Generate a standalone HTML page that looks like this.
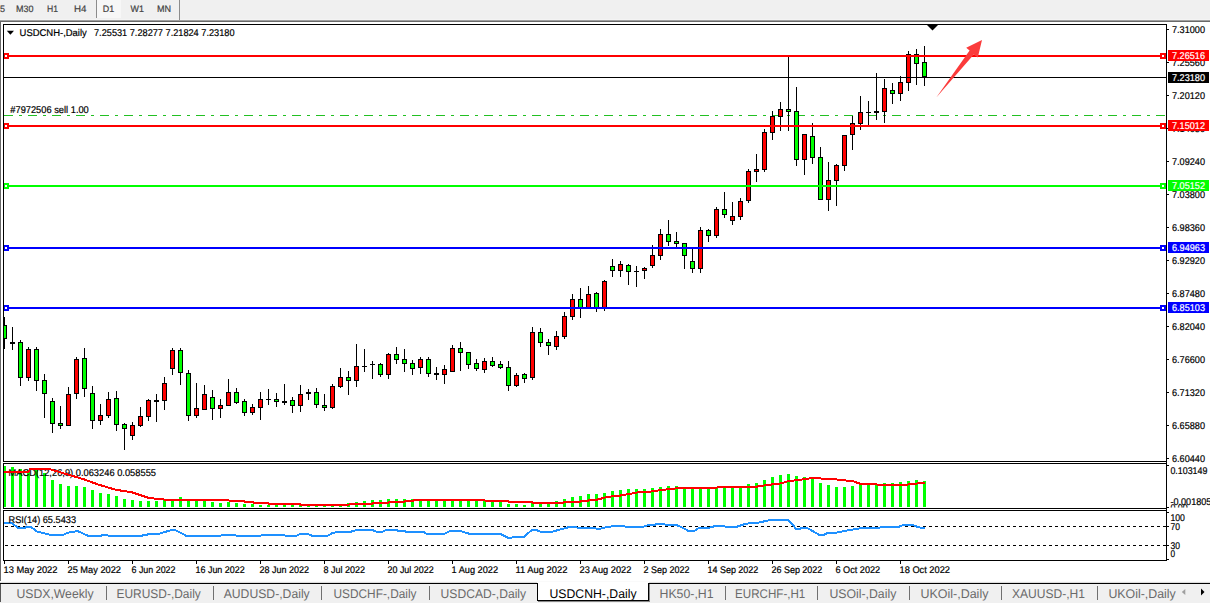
<!DOCTYPE html>
<html><head><meta charset="utf-8"><title>USDCNH-,Daily</title>
<style>html,body{margin:0;padding:0;background:#fff;width:1210px;height:604px;overflow:hidden}svg text{font-family:"Liberation Sans",sans-serif}</style>
</head><body>
<svg width="1210" height="604" viewBox="0 0 1210 604" style="position:absolute;left:0;top:0" text-rendering="geometricPrecision">
<g shape-rendering="crispEdges">
<rect x="0" y="0" width="1210" height="604" fill="#fff"/>
<rect x="0" y="0" width="1210" height="19" fill="#f0f0f0"/>
<rect x="0" y="19" width="1210" height="1" fill="#f4f4f4"/>
<rect x="0" y="20" width="1210" height="1" fill="#a0a0a0"/>
<rect x="0" y="21" width="1210" height="1" fill="#696969"/>
<rect x="97" y="0" width="24" height="18" fill="#f7f7f7"/>
<rect x="96" y="0" width="1" height="18" fill="#8c8c8c"/>
<rect x="179" y="0" width="1" height="20" fill="#8c8c8c"/>
<rect x="0" y="21" width="1" height="561" fill="#696969"/>
<rect x="0" y="581" width="1210" height="1" fill="#fafafa"/>
<rect x="0" y="582" width="1210" height="1" fill="#dcdcdc"/>
<rect x="0" y="583" width="1210" height="1" fill="#000"/>
<rect x="0" y="584" width="1210" height="19" fill="#f0f0f0"/>
<rect x="0" y="603" width="1210" height="1" fill="#fff"/>
<rect x="0" y="584" width="1" height="18" fill="#555"/>
<clipPath id="cm"><rect x="4" y="25" width="1162" height="436"/></clipPath>
<clipPath id="cd"><rect x="4" y="464" width="1162" height="44"/></clipPath>
<clipPath id="cr"><rect x="4" y="511" width="1162" height="49"/></clipPath>
<g clip-path="url(#cm)">
<rect x="4" y="115" width="9" height="1" fill="#22c022"/>
<rect x="19" y="115" width="3" height="1" fill="#22c022"/>
<rect x="28" y="115" width="9" height="1" fill="#22c022"/>
<rect x="43" y="115" width="3" height="1" fill="#22c022"/>
<rect x="52" y="115" width="9" height="1" fill="#22c022"/>
<rect x="67" y="115" width="3" height="1" fill="#22c022"/>
<rect x="76" y="115" width="9" height="1" fill="#22c022"/>
<rect x="91" y="115" width="3" height="1" fill="#22c022"/>
<rect x="100" y="115" width="9" height="1" fill="#22c022"/>
<rect x="115" y="115" width="3" height="1" fill="#22c022"/>
<rect x="124" y="115" width="9" height="1" fill="#22c022"/>
<rect x="139" y="115" width="3" height="1" fill="#22c022"/>
<rect x="148" y="115" width="9" height="1" fill="#22c022"/>
<rect x="163" y="115" width="3" height="1" fill="#22c022"/>
<rect x="172" y="115" width="9" height="1" fill="#22c022"/>
<rect x="187" y="115" width="3" height="1" fill="#22c022"/>
<rect x="196" y="115" width="9" height="1" fill="#22c022"/>
<rect x="211" y="115" width="3" height="1" fill="#22c022"/>
<rect x="220" y="115" width="9" height="1" fill="#22c022"/>
<rect x="235" y="115" width="3" height="1" fill="#22c022"/>
<rect x="244" y="115" width="9" height="1" fill="#22c022"/>
<rect x="259" y="115" width="3" height="1" fill="#22c022"/>
<rect x="268" y="115" width="9" height="1" fill="#22c022"/>
<rect x="283" y="115" width="3" height="1" fill="#22c022"/>
<rect x="292" y="115" width="9" height="1" fill="#22c022"/>
<rect x="307" y="115" width="3" height="1" fill="#22c022"/>
<rect x="316" y="115" width="9" height="1" fill="#22c022"/>
<rect x="331" y="115" width="3" height="1" fill="#22c022"/>
<rect x="340" y="115" width="9" height="1" fill="#22c022"/>
<rect x="355" y="115" width="3" height="1" fill="#22c022"/>
<rect x="364" y="115" width="9" height="1" fill="#22c022"/>
<rect x="379" y="115" width="3" height="1" fill="#22c022"/>
<rect x="388" y="115" width="9" height="1" fill="#22c022"/>
<rect x="403" y="115" width="3" height="1" fill="#22c022"/>
<rect x="412" y="115" width="9" height="1" fill="#22c022"/>
<rect x="427" y="115" width="3" height="1" fill="#22c022"/>
<rect x="436" y="115" width="9" height="1" fill="#22c022"/>
<rect x="451" y="115" width="3" height="1" fill="#22c022"/>
<rect x="460" y="115" width="9" height="1" fill="#22c022"/>
<rect x="475" y="115" width="3" height="1" fill="#22c022"/>
<rect x="484" y="115" width="9" height="1" fill="#22c022"/>
<rect x="499" y="115" width="3" height="1" fill="#22c022"/>
<rect x="508" y="115" width="9" height="1" fill="#22c022"/>
<rect x="523" y="115" width="3" height="1" fill="#22c022"/>
<rect x="532" y="115" width="9" height="1" fill="#22c022"/>
<rect x="547" y="115" width="3" height="1" fill="#22c022"/>
<rect x="556" y="115" width="9" height="1" fill="#22c022"/>
<rect x="571" y="115" width="3" height="1" fill="#22c022"/>
<rect x="580" y="115" width="9" height="1" fill="#22c022"/>
<rect x="595" y="115" width="3" height="1" fill="#22c022"/>
<rect x="604" y="115" width="9" height="1" fill="#22c022"/>
<rect x="619" y="115" width="3" height="1" fill="#22c022"/>
<rect x="628" y="115" width="9" height="1" fill="#22c022"/>
<rect x="643" y="115" width="3" height="1" fill="#22c022"/>
<rect x="652" y="115" width="9" height="1" fill="#22c022"/>
<rect x="667" y="115" width="3" height="1" fill="#22c022"/>
<rect x="676" y="115" width="9" height="1" fill="#22c022"/>
<rect x="691" y="115" width="3" height="1" fill="#22c022"/>
<rect x="700" y="115" width="9" height="1" fill="#22c022"/>
<rect x="715" y="115" width="3" height="1" fill="#22c022"/>
<rect x="724" y="115" width="9" height="1" fill="#22c022"/>
<rect x="739" y="115" width="3" height="1" fill="#22c022"/>
<rect x="748" y="115" width="9" height="1" fill="#22c022"/>
<rect x="763" y="115" width="3" height="1" fill="#22c022"/>
<rect x="772" y="115" width="9" height="1" fill="#22c022"/>
<rect x="787" y="115" width="3" height="1" fill="#22c022"/>
<rect x="796" y="115" width="9" height="1" fill="#22c022"/>
<rect x="811" y="115" width="3" height="1" fill="#22c022"/>
<rect x="820" y="115" width="9" height="1" fill="#22c022"/>
<rect x="835" y="115" width="3" height="1" fill="#22c022"/>
<rect x="844" y="115" width="9" height="1" fill="#22c022"/>
<rect x="859" y="115" width="3" height="1" fill="#22c022"/>
<rect x="868" y="115" width="9" height="1" fill="#22c022"/>
<rect x="883" y="115" width="3" height="1" fill="#22c022"/>
<rect x="892" y="115" width="9" height="1" fill="#22c022"/>
<rect x="907" y="115" width="3" height="1" fill="#22c022"/>
<rect x="916" y="115" width="9" height="1" fill="#22c022"/>
<rect x="931" y="115" width="3" height="1" fill="#22c022"/>
<rect x="940" y="115" width="9" height="1" fill="#22c022"/>
<rect x="955" y="115" width="3" height="1" fill="#22c022"/>
<rect x="964" y="115" width="9" height="1" fill="#22c022"/>
<rect x="979" y="115" width="3" height="1" fill="#22c022"/>
<rect x="988" y="115" width="9" height="1" fill="#22c022"/>
<rect x="1003" y="115" width="3" height="1" fill="#22c022"/>
<rect x="1012" y="115" width="9" height="1" fill="#22c022"/>
<rect x="1027" y="115" width="3" height="1" fill="#22c022"/>
<rect x="1036" y="115" width="9" height="1" fill="#22c022"/>
<rect x="1051" y="115" width="3" height="1" fill="#22c022"/>
<rect x="1060" y="115" width="9" height="1" fill="#22c022"/>
<rect x="1075" y="115" width="3" height="1" fill="#22c022"/>
<rect x="1084" y="115" width="9" height="1" fill="#22c022"/>
<rect x="1099" y="115" width="3" height="1" fill="#22c022"/>
<rect x="1108" y="115" width="9" height="1" fill="#22c022"/>
<rect x="1123" y="115" width="3" height="1" fill="#22c022"/>
<rect x="1132" y="115" width="9" height="1" fill="#22c022"/>
<rect x="1147" y="115" width="3" height="1" fill="#22c022"/>
<rect x="1156" y="115" width="9" height="1" fill="#22c022"/>
<rect x="1171" y="115" width="3" height="1" fill="#22c022"/>
<rect x="4" y="317" width="1" height="32" fill="#000"/>
<rect x="2" y="325" width="5" height="14" fill="#000"/>
<rect x="3" y="326" width="3" height="12" fill="#00ff00"/>
<rect x="12" y="327" width="1" height="23" fill="#000"/>
<rect x="10" y="342" width="5" height="2" fill="#000"/>
<rect x="20" y="340" width="1" height="46" fill="#000"/>
<rect x="18" y="342" width="5" height="36" fill="#000"/>
<rect x="19" y="343" width="3" height="34" fill="#00ff00"/>
<rect x="28" y="347" width="1" height="34" fill="#000"/>
<rect x="26" y="349" width="5" height="29" fill="#000"/>
<rect x="27" y="350" width="3" height="27" fill="#ff0000"/>
<rect x="36" y="347" width="1" height="44" fill="#000"/>
<rect x="34" y="349" width="5" height="32" fill="#000"/>
<rect x="35" y="350" width="3" height="30" fill="#00ff00"/>
<rect x="44" y="374" width="1" height="44" fill="#000"/>
<rect x="42" y="380" width="5" height="14" fill="#000"/>
<rect x="43" y="381" width="3" height="12" fill="#00ff00"/>
<rect x="52" y="398" width="1" height="35" fill="#000"/>
<rect x="50" y="401" width="5" height="23" fill="#000"/>
<rect x="51" y="402" width="3" height="21" fill="#00ff00"/>
<rect x="60" y="406" width="1" height="23" fill="#000"/>
<rect x="58" y="423" width="5" height="3" fill="#000"/>
<rect x="59" y="424" width="3" height="1" fill="#00ff00"/>
<rect x="68" y="387" width="1" height="39" fill="#000"/>
<rect x="66" y="394" width="5" height="32" fill="#000"/>
<rect x="67" y="395" width="3" height="30" fill="#ff0000"/>
<rect x="76" y="357" width="1" height="42" fill="#000"/>
<rect x="74" y="359" width="5" height="35" fill="#000"/>
<rect x="75" y="360" width="3" height="33" fill="#ff0000"/>
<rect x="84" y="348" width="1" height="49" fill="#000"/>
<rect x="82" y="358" width="5" height="31" fill="#000"/>
<rect x="83" y="359" width="3" height="29" fill="#00ff00"/>
<rect x="92" y="386" width="1" height="43" fill="#000"/>
<rect x="90" y="393" width="5" height="28" fill="#000"/>
<rect x="91" y="394" width="3" height="26" fill="#00ff00"/>
<rect x="100" y="404" width="1" height="21" fill="#000"/>
<rect x="98" y="415" width="5" height="6" fill="#000"/>
<rect x="99" y="416" width="3" height="4" fill="#ff0000"/>
<rect x="108" y="392" width="1" height="26" fill="#000"/>
<rect x="106" y="399" width="5" height="17" fill="#000"/>
<rect x="107" y="400" width="3" height="15" fill="#ff0000"/>
<rect x="116" y="391" width="1" height="40" fill="#000"/>
<rect x="114" y="398" width="5" height="27" fill="#000"/>
<rect x="115" y="399" width="3" height="25" fill="#00ff00"/>
<rect x="124" y="423" width="1" height="27" fill="#000"/>
<rect x="122" y="424" width="5" height="5" fill="#000"/>
<rect x="123" y="425" width="3" height="3" fill="#00ff00"/>
<rect x="132" y="422" width="1" height="18" fill="#000"/>
<rect x="130" y="425" width="5" height="11" fill="#000"/>
<rect x="131" y="426" width="3" height="9" fill="#ff0000"/>
<rect x="140" y="407" width="1" height="20" fill="#000"/>
<rect x="138" y="416" width="5" height="10" fill="#000"/>
<rect x="139" y="417" width="3" height="8" fill="#ff0000"/>
<rect x="148" y="399" width="1" height="22" fill="#000"/>
<rect x="146" y="400" width="5" height="17" fill="#000"/>
<rect x="147" y="401" width="3" height="15" fill="#ff0000"/>
<rect x="156" y="394" width="1" height="28" fill="#000"/>
<rect x="154" y="400" width="5" height="2" fill="#000"/>
<rect x="164" y="377" width="1" height="33" fill="#000"/>
<rect x="162" y="383" width="5" height="18" fill="#000"/>
<rect x="163" y="384" width="3" height="16" fill="#ff0000"/>
<rect x="172" y="348" width="1" height="27" fill="#000"/>
<rect x="170" y="350" width="5" height="19" fill="#000"/>
<rect x="171" y="351" width="3" height="17" fill="#ff0000"/>
<rect x="180" y="348" width="1" height="37" fill="#000"/>
<rect x="178" y="350" width="5" height="23" fill="#000"/>
<rect x="179" y="351" width="3" height="21" fill="#00ff00"/>
<rect x="188" y="370" width="1" height="51" fill="#000"/>
<rect x="186" y="373" width="5" height="43" fill="#000"/>
<rect x="187" y="374" width="3" height="41" fill="#00ff00"/>
<rect x="196" y="383" width="1" height="35" fill="#000"/>
<rect x="194" y="408" width="5" height="8" fill="#000"/>
<rect x="195" y="409" width="3" height="6" fill="#ff0000"/>
<rect x="204" y="385" width="1" height="25" fill="#000"/>
<rect x="202" y="394" width="5" height="16" fill="#000"/>
<rect x="203" y="395" width="3" height="14" fill="#ff0000"/>
<rect x="212" y="390" width="1" height="30" fill="#000"/>
<rect x="210" y="397" width="5" height="12" fill="#000"/>
<rect x="211" y="398" width="3" height="10" fill="#00ff00"/>
<rect x="220" y="399" width="1" height="19" fill="#000"/>
<rect x="218" y="405" width="5" height="4" fill="#000"/>
<rect x="219" y="406" width="3" height="2" fill="#ff0000"/>
<rect x="228" y="379" width="1" height="27" fill="#000"/>
<rect x="226" y="392" width="5" height="14" fill="#000"/>
<rect x="227" y="393" width="3" height="12" fill="#ff0000"/>
<rect x="236" y="388" width="1" height="16" fill="#000"/>
<rect x="234" y="392" width="5" height="11" fill="#000"/>
<rect x="235" y="393" width="3" height="9" fill="#00ff00"/>
<rect x="244" y="399" width="1" height="17" fill="#000"/>
<rect x="242" y="401" width="5" height="12" fill="#000"/>
<rect x="243" y="402" width="3" height="10" fill="#00ff00"/>
<rect x="252" y="404" width="1" height="11" fill="#000"/>
<rect x="250" y="407" width="5" height="6" fill="#000"/>
<rect x="251" y="408" width="3" height="4" fill="#ff0000"/>
<rect x="260" y="392" width="1" height="28" fill="#000"/>
<rect x="258" y="399" width="5" height="9" fill="#000"/>
<rect x="259" y="400" width="3" height="7" fill="#ff0000"/>
<rect x="268" y="389" width="1" height="16" fill="#000"/>
<rect x="266" y="399" width="5" height="1" fill="#000"/>
<rect x="276" y="393" width="1" height="14" fill="#000"/>
<rect x="274" y="399" width="5" height="3" fill="#000"/>
<rect x="275" y="400" width="3" height="1" fill="#00ff00"/>
<rect x="284" y="384" width="1" height="21" fill="#000"/>
<rect x="282" y="401" width="5" height="2" fill="#000"/>
<rect x="292" y="397" width="1" height="16" fill="#000"/>
<rect x="290" y="400" width="5" height="6" fill="#000"/>
<rect x="291" y="401" width="3" height="4" fill="#00ff00"/>
<rect x="300" y="385" width="1" height="27" fill="#000"/>
<rect x="298" y="394" width="5" height="12" fill="#000"/>
<rect x="299" y="395" width="3" height="10" fill="#ff0000"/>
<rect x="308" y="389" width="1" height="11" fill="#000"/>
<rect x="306" y="392" width="5" height="2" fill="#000"/>
<rect x="316" y="388" width="1" height="20" fill="#000"/>
<rect x="314" y="392" width="5" height="13" fill="#000"/>
<rect x="315" y="393" width="3" height="11" fill="#00ff00"/>
<rect x="324" y="394" width="1" height="17" fill="#000"/>
<rect x="322" y="405" width="5" height="3" fill="#000"/>
<rect x="323" y="406" width="3" height="1" fill="#00ff00"/>
<rect x="332" y="384" width="1" height="25" fill="#000"/>
<rect x="330" y="386" width="5" height="22" fill="#000"/>
<rect x="331" y="387" width="3" height="20" fill="#ff0000"/>
<rect x="340" y="368" width="1" height="20" fill="#000"/>
<rect x="338" y="377" width="5" height="10" fill="#000"/>
<rect x="339" y="378" width="3" height="8" fill="#ff0000"/>
<rect x="348" y="371" width="1" height="24" fill="#000"/>
<rect x="346" y="377" width="5" height="4" fill="#000"/>
<rect x="347" y="378" width="3" height="2" fill="#00ff00"/>
<rect x="356" y="344" width="1" height="43" fill="#000"/>
<rect x="354" y="366" width="5" height="15" fill="#000"/>
<rect x="355" y="367" width="3" height="13" fill="#ff0000"/>
<rect x="364" y="349" width="1" height="23" fill="#000"/>
<rect x="362" y="366" width="5" height="1" fill="#000"/>
<rect x="372" y="361" width="1" height="18" fill="#000"/>
<rect x="370" y="364" width="5" height="1" fill="#000"/>
<rect x="380" y="363" width="1" height="14" fill="#000"/>
<rect x="378" y="364" width="5" height="11" fill="#000"/>
<rect x="379" y="365" width="3" height="9" fill="#00ff00"/>
<rect x="388" y="353" width="1" height="26" fill="#000"/>
<rect x="386" y="354" width="5" height="21" fill="#000"/>
<rect x="387" y="355" width="3" height="19" fill="#ff0000"/>
<rect x="396" y="347" width="1" height="17" fill="#000"/>
<rect x="394" y="354" width="5" height="6" fill="#000"/>
<rect x="395" y="355" width="3" height="4" fill="#00ff00"/>
<rect x="404" y="349" width="1" height="23" fill="#000"/>
<rect x="402" y="359" width="5" height="5" fill="#000"/>
<rect x="403" y="360" width="3" height="3" fill="#00ff00"/>
<rect x="412" y="360" width="1" height="15" fill="#000"/>
<rect x="410" y="363" width="5" height="6" fill="#000"/>
<rect x="411" y="364" width="3" height="4" fill="#00ff00"/>
<rect x="420" y="357" width="1" height="17" fill="#000"/>
<rect x="418" y="359" width="5" height="9" fill="#000"/>
<rect x="419" y="360" width="3" height="7" fill="#ff0000"/>
<rect x="428" y="357" width="1" height="20" fill="#000"/>
<rect x="426" y="359" width="5" height="15" fill="#000"/>
<rect x="427" y="360" width="3" height="13" fill="#00ff00"/>
<rect x="436" y="367" width="1" height="13" fill="#000"/>
<rect x="434" y="373" width="5" height="2" fill="#000"/>
<rect x="444" y="365" width="1" height="19" fill="#000"/>
<rect x="442" y="369" width="5" height="6" fill="#000"/>
<rect x="443" y="370" width="3" height="4" fill="#ff0000"/>
<rect x="452" y="345" width="1" height="27" fill="#000"/>
<rect x="450" y="348" width="5" height="24" fill="#000"/>
<rect x="451" y="349" width="3" height="22" fill="#ff0000"/>
<rect x="460" y="342" width="1" height="29" fill="#000"/>
<rect x="458" y="348" width="5" height="5" fill="#000"/>
<rect x="459" y="349" width="3" height="3" fill="#00ff00"/>
<rect x="468" y="352" width="1" height="17" fill="#000"/>
<rect x="466" y="352" width="5" height="13" fill="#000"/>
<rect x="467" y="353" width="3" height="11" fill="#00ff00"/>
<rect x="476" y="359" width="1" height="12" fill="#000"/>
<rect x="474" y="363" width="5" height="6" fill="#000"/>
<rect x="475" y="364" width="3" height="4" fill="#00ff00"/>
<rect x="484" y="358" width="1" height="15" fill="#000"/>
<rect x="482" y="361" width="5" height="9" fill="#000"/>
<rect x="483" y="362" width="3" height="7" fill="#ff0000"/>
<rect x="492" y="357" width="1" height="10" fill="#000"/>
<rect x="490" y="361" width="5" height="5" fill="#000"/>
<rect x="491" y="362" width="3" height="3" fill="#00ff00"/>
<rect x="500" y="361" width="1" height="8" fill="#000"/>
<rect x="498" y="364" width="5" height="4" fill="#000"/>
<rect x="499" y="365" width="3" height="2" fill="#00ff00"/>
<rect x="508" y="361" width="1" height="30" fill="#000"/>
<rect x="506" y="367" width="5" height="19" fill="#000"/>
<rect x="507" y="368" width="3" height="17" fill="#00ff00"/>
<rect x="516" y="373" width="1" height="14" fill="#000"/>
<rect x="514" y="375" width="5" height="11" fill="#000"/>
<rect x="515" y="376" width="3" height="9" fill="#ff0000"/>
<rect x="524" y="373" width="1" height="10" fill="#000"/>
<rect x="522" y="374" width="5" height="5" fill="#000"/>
<rect x="523" y="375" width="3" height="3" fill="#00ff00"/>
<rect x="532" y="327" width="1" height="53" fill="#000"/>
<rect x="530" y="332" width="5" height="46" fill="#000"/>
<rect x="531" y="333" width="3" height="44" fill="#ff0000"/>
<rect x="540" y="328" width="1" height="19" fill="#000"/>
<rect x="538" y="332" width="5" height="11" fill="#000"/>
<rect x="539" y="333" width="3" height="9" fill="#00ff00"/>
<rect x="548" y="339" width="1" height="16" fill="#000"/>
<rect x="546" y="342" width="5" height="4" fill="#000"/>
<rect x="547" y="343" width="3" height="2" fill="#00ff00"/>
<rect x="556" y="331" width="1" height="19" fill="#000"/>
<rect x="554" y="336" width="5" height="11" fill="#000"/>
<rect x="555" y="337" width="3" height="9" fill="#ff0000"/>
<rect x="564" y="312" width="1" height="27" fill="#000"/>
<rect x="562" y="316" width="5" height="21" fill="#000"/>
<rect x="563" y="317" width="3" height="19" fill="#ff0000"/>
<rect x="572" y="294" width="1" height="26" fill="#000"/>
<rect x="570" y="299" width="5" height="18" fill="#000"/>
<rect x="571" y="300" width="3" height="16" fill="#ff0000"/>
<rect x="580" y="288" width="1" height="30" fill="#000"/>
<rect x="578" y="299" width="5" height="10" fill="#000"/>
<rect x="579" y="300" width="3" height="8" fill="#00ff00"/>
<rect x="588" y="286" width="1" height="23" fill="#000"/>
<rect x="586" y="294" width="5" height="15" fill="#000"/>
<rect x="587" y="295" width="3" height="13" fill="#ff0000"/>
<rect x="596" y="292" width="1" height="20" fill="#000"/>
<rect x="594" y="293" width="5" height="16" fill="#000"/>
<rect x="595" y="294" width="3" height="14" fill="#00ff00"/>
<rect x="604" y="280" width="1" height="31" fill="#000"/>
<rect x="602" y="281" width="5" height="28" fill="#000"/>
<rect x="603" y="282" width="3" height="26" fill="#ff0000"/>
<rect x="612" y="259" width="1" height="18" fill="#000"/>
<rect x="610" y="266" width="5" height="5" fill="#000"/>
<rect x="611" y="267" width="3" height="3" fill="#00ff00"/>
<rect x="620" y="261" width="1" height="16" fill="#000"/>
<rect x="618" y="264" width="5" height="7" fill="#000"/>
<rect x="619" y="265" width="3" height="5" fill="#ff0000"/>
<rect x="628" y="264" width="1" height="21" fill="#000"/>
<rect x="626" y="265" width="5" height="7" fill="#000"/>
<rect x="627" y="266" width="3" height="5" fill="#00ff00"/>
<rect x="636" y="266" width="1" height="21" fill="#000"/>
<rect x="634" y="271" width="5" height="1" fill="#000"/>
<rect x="644" y="267" width="1" height="12" fill="#000"/>
<rect x="642" y="268" width="5" height="3" fill="#000"/>
<rect x="643" y="269" width="3" height="1" fill="#ff0000"/>
<rect x="652" y="245" width="1" height="23" fill="#000"/>
<rect x="650" y="255" width="5" height="11" fill="#000"/>
<rect x="651" y="256" width="3" height="9" fill="#ff0000"/>
<rect x="660" y="229" width="1" height="31" fill="#000"/>
<rect x="658" y="234" width="5" height="22" fill="#000"/>
<rect x="659" y="235" width="3" height="20" fill="#ff0000"/>
<rect x="668" y="220" width="1" height="26" fill="#000"/>
<rect x="666" y="234" width="5" height="8" fill="#000"/>
<rect x="667" y="235" width="3" height="6" fill="#00ff00"/>
<rect x="676" y="232" width="1" height="15" fill="#000"/>
<rect x="674" y="241" width="5" height="3" fill="#000"/>
<rect x="675" y="242" width="3" height="1" fill="#00ff00"/>
<rect x="684" y="243" width="1" height="26" fill="#000"/>
<rect x="682" y="243" width="5" height="13" fill="#000"/>
<rect x="683" y="244" width="3" height="11" fill="#00ff00"/>
<rect x="692" y="249" width="1" height="24" fill="#000"/>
<rect x="690" y="261" width="5" height="8" fill="#000"/>
<rect x="691" y="262" width="3" height="6" fill="#00ff00"/>
<rect x="700" y="227" width="1" height="46" fill="#000"/>
<rect x="698" y="230" width="5" height="39" fill="#000"/>
<rect x="699" y="231" width="3" height="37" fill="#ff0000"/>
<rect x="708" y="229" width="1" height="13" fill="#000"/>
<rect x="706" y="230" width="5" height="6" fill="#000"/>
<rect x="707" y="231" width="3" height="4" fill="#00ff00"/>
<rect x="716" y="207" width="1" height="31" fill="#000"/>
<rect x="714" y="209" width="5" height="27" fill="#000"/>
<rect x="715" y="210" width="3" height="25" fill="#ff0000"/>
<rect x="724" y="192" width="1" height="26" fill="#000"/>
<rect x="722" y="209" width="5" height="6" fill="#000"/>
<rect x="723" y="210" width="3" height="4" fill="#00ff00"/>
<rect x="732" y="202" width="1" height="23" fill="#000"/>
<rect x="730" y="216" width="5" height="5" fill="#000"/>
<rect x="731" y="217" width="3" height="3" fill="#ff0000"/>
<rect x="740" y="198" width="1" height="22" fill="#000"/>
<rect x="738" y="201" width="5" height="16" fill="#000"/>
<rect x="739" y="202" width="3" height="14" fill="#ff0000"/>
<rect x="748" y="169" width="1" height="34" fill="#000"/>
<rect x="746" y="171" width="5" height="30" fill="#000"/>
<rect x="747" y="172" width="3" height="28" fill="#ff0000"/>
<rect x="756" y="154" width="1" height="28" fill="#000"/>
<rect x="754" y="169" width="5" height="3" fill="#000"/>
<rect x="755" y="170" width="3" height="1" fill="#ff0000"/>
<rect x="764" y="129" width="1" height="43" fill="#000"/>
<rect x="762" y="132" width="5" height="38" fill="#000"/>
<rect x="763" y="133" width="3" height="36" fill="#ff0000"/>
<rect x="772" y="111" width="1" height="29" fill="#000"/>
<rect x="770" y="116" width="5" height="17" fill="#000"/>
<rect x="771" y="117" width="3" height="15" fill="#ff0000"/>
<rect x="780" y="102" width="1" height="29" fill="#000"/>
<rect x="778" y="109" width="5" height="8" fill="#000"/>
<rect x="779" y="110" width="3" height="6" fill="#ff0000"/>
<rect x="788" y="57" width="1" height="74" fill="#000"/>
<rect x="786" y="109" width="5" height="3" fill="#000"/>
<rect x="787" y="110" width="3" height="1" fill="#00ff00"/>
<rect x="796" y="87" width="1" height="79" fill="#000"/>
<rect x="794" y="111" width="5" height="49" fill="#000"/>
<rect x="795" y="112" width="3" height="47" fill="#00ff00"/>
<rect x="804" y="134" width="1" height="41" fill="#000"/>
<rect x="802" y="134" width="5" height="26" fill="#000"/>
<rect x="803" y="135" width="3" height="24" fill="#ff0000"/>
<rect x="812" y="123" width="1" height="41" fill="#000"/>
<rect x="810" y="136" width="5" height="22" fill="#000"/>
<rect x="811" y="137" width="3" height="20" fill="#00ff00"/>
<rect x="820" y="147" width="1" height="53" fill="#000"/>
<rect x="818" y="157" width="5" height="43" fill="#000"/>
<rect x="819" y="158" width="3" height="41" fill="#00ff00"/>
<rect x="828" y="162" width="1" height="49" fill="#000"/>
<rect x="826" y="180" width="5" height="20" fill="#000"/>
<rect x="827" y="181" width="3" height="18" fill="#ff0000"/>
<rect x="836" y="164" width="1" height="42" fill="#000"/>
<rect x="834" y="165" width="5" height="16" fill="#000"/>
<rect x="835" y="166" width="3" height="14" fill="#ff0000"/>
<rect x="844" y="135" width="1" height="36" fill="#000"/>
<rect x="842" y="135" width="5" height="31" fill="#000"/>
<rect x="843" y="136" width="3" height="29" fill="#ff0000"/>
<rect x="852" y="116" width="1" height="34" fill="#000"/>
<rect x="850" y="123" width="5" height="12" fill="#000"/>
<rect x="851" y="124" width="3" height="10" fill="#ff0000"/>
<rect x="860" y="96" width="1" height="34" fill="#000"/>
<rect x="858" y="112" width="5" height="12" fill="#000"/>
<rect x="859" y="113" width="3" height="10" fill="#ff0000"/>
<rect x="868" y="101" width="1" height="24" fill="#000"/>
<rect x="866" y="112" width="5" height="1" fill="#000"/>
<rect x="876" y="73" width="1" height="47" fill="#000"/>
<rect x="874" y="111" width="5" height="2" fill="#000"/>
<rect x="884" y="79" width="1" height="44" fill="#000"/>
<rect x="882" y="88" width="5" height="24" fill="#000"/>
<rect x="883" y="89" width="3" height="22" fill="#ff0000"/>
<rect x="892" y="83" width="1" height="21" fill="#000"/>
<rect x="890" y="90" width="5" height="4" fill="#000"/>
<rect x="891" y="91" width="3" height="2" fill="#00ff00"/>
<rect x="900" y="76" width="1" height="25" fill="#000"/>
<rect x="898" y="82" width="5" height="12" fill="#000"/>
<rect x="899" y="83" width="3" height="10" fill="#ff0000"/>
<rect x="908" y="51" width="1" height="40" fill="#000"/>
<rect x="906" y="54" width="5" height="29" fill="#000"/>
<rect x="907" y="55" width="3" height="27" fill="#ff0000"/>
<rect x="916" y="49" width="1" height="36" fill="#000"/>
<rect x="914" y="54" width="5" height="10" fill="#000"/>
<rect x="915" y="55" width="3" height="8" fill="#00ff00"/>
<rect x="924" y="46" width="1" height="40" fill="#000"/>
<rect x="922" y="62" width="5" height="15" fill="#000"/>
<rect x="923" y="63" width="3" height="13" fill="#00ff00"/>
</g>
<rect x="9" y="55" width="1151" height="2" fill="#ff0000"/>
<rect x="3" y="53" width="6" height="6" fill="#ff0000"/>
<rect x="5" y="55" width="2" height="2" fill="#fff"/>
<rect x="1160" y="53" width="6" height="6" fill="#ff0000"/>
<rect x="1162" y="55" width="2" height="2" fill="#fff"/>
<rect x="9" y="125" width="1151" height="2" fill="#ff0000"/>
<rect x="3" y="123" width="6" height="6" fill="#ff0000"/>
<rect x="5" y="125" width="2" height="2" fill="#fff"/>
<rect x="1160" y="123" width="6" height="6" fill="#ff0000"/>
<rect x="1162" y="125" width="2" height="2" fill="#fff"/>
<rect x="9" y="185" width="1151" height="2" fill="#00ff00"/>
<rect x="3" y="183" width="6" height="6" fill="#00ff00"/>
<rect x="5" y="185" width="2" height="2" fill="#fff"/>
<rect x="1160" y="183" width="6" height="6" fill="#00ff00"/>
<rect x="1162" y="185" width="2" height="2" fill="#fff"/>
<rect x="9" y="247" width="1151" height="2" fill="#0000ff"/>
<rect x="3" y="245" width="6" height="6" fill="#0000ff"/>
<rect x="5" y="247" width="2" height="2" fill="#fff"/>
<rect x="1160" y="245" width="6" height="6" fill="#0000ff"/>
<rect x="1162" y="247" width="2" height="2" fill="#fff"/>
<rect x="9" y="307" width="1151" height="2" fill="#0000ff"/>
<rect x="3" y="305" width="6" height="6" fill="#0000ff"/>
<rect x="5" y="307" width="2" height="2" fill="#fff"/>
<rect x="1160" y="305" width="6" height="6" fill="#0000ff"/>
<rect x="1162" y="307" width="2" height="2" fill="#fff"/>
<rect x="4" y="77" width="1162" height="1" fill="#000"/>
<g clip-path="url(#cd)">
<rect x="3" y="466" width="3" height="41" fill="#00ff00"/>
<rect x="11" y="467" width="3" height="40" fill="#00ff00"/>
<rect x="19" y="469" width="3" height="38" fill="#00ff00"/>
<rect x="27" y="470" width="3" height="37" fill="#00ff00"/>
<rect x="35" y="469" width="3" height="38" fill="#00ff00"/>
<rect x="43" y="473" width="3" height="34" fill="#00ff00"/>
<rect x="51" y="480" width="3" height="27" fill="#00ff00"/>
<rect x="59" y="484" width="3" height="23" fill="#00ff00"/>
<rect x="67" y="486" width="3" height="21" fill="#00ff00"/>
<rect x="75" y="486" width="3" height="21" fill="#00ff00"/>
<rect x="83" y="487" width="3" height="20" fill="#00ff00"/>
<rect x="91" y="490" width="3" height="17" fill="#00ff00"/>
<rect x="99" y="493" width="3" height="14" fill="#00ff00"/>
<rect x="107" y="494" width="3" height="13" fill="#00ff00"/>
<rect x="115" y="496" width="3" height="11" fill="#00ff00"/>
<rect x="123" y="499" width="3" height="8" fill="#00ff00"/>
<rect x="131" y="500" width="3" height="7" fill="#00ff00"/>
<rect x="139" y="501" width="3" height="6" fill="#00ff00"/>
<rect x="147" y="501" width="3" height="6" fill="#00ff00"/>
<rect x="155" y="501" width="3" height="6" fill="#00ff00"/>
<rect x="163" y="500" width="3" height="7" fill="#00ff00"/>
<rect x="171" y="500" width="3" height="7" fill="#00ff00"/>
<rect x="179" y="497" width="3" height="10" fill="#00ff00"/>
<rect x="187" y="501" width="3" height="6" fill="#00ff00"/>
<rect x="195" y="501" width="3" height="6" fill="#00ff00"/>
<rect x="203" y="501" width="3" height="6" fill="#00ff00"/>
<rect x="211" y="502" width="3" height="5" fill="#00ff00"/>
<rect x="219" y="503" width="3" height="4" fill="#00ff00"/>
<rect x="227" y="502" width="3" height="5" fill="#00ff00"/>
<rect x="235" y="503" width="3" height="4" fill="#00ff00"/>
<rect x="243" y="504" width="3" height="3" fill="#00ff00"/>
<rect x="251" y="504" width="3" height="3" fill="#00ff00"/>
<rect x="259" y="505" width="3" height="2" fill="#00ff00"/>
<rect x="267" y="505" width="3" height="2" fill="#00ff00"/>
<rect x="275" y="505" width="3" height="2" fill="#00ff00"/>
<rect x="283" y="505" width="3" height="2" fill="#00ff00"/>
<rect x="291" y="505" width="3" height="2" fill="#00ff00"/>
<rect x="299" y="505" width="3" height="2" fill="#00ff00"/>
<rect x="307" y="506" width="3" height="1" fill="#00ff00"/>
<rect x="315" y="506" width="3" height="1" fill="#00ff00"/>
<rect x="323" y="506" width="3" height="1" fill="#00ff00"/>
<rect x="331" y="506" width="3" height="1" fill="#00ff00"/>
<rect x="339" y="506" width="3" height="1" fill="#00ff00"/>
<rect x="347" y="503" width="3" height="4" fill="#00ff00"/>
<rect x="355" y="502" width="3" height="5" fill="#00ff00"/>
<rect x="363" y="501" width="3" height="6" fill="#00ff00"/>
<rect x="371" y="500" width="3" height="7" fill="#00ff00"/>
<rect x="379" y="500" width="3" height="7" fill="#00ff00"/>
<rect x="387" y="499" width="3" height="8" fill="#00ff00"/>
<rect x="395" y="499" width="3" height="8" fill="#00ff00"/>
<rect x="403" y="499" width="3" height="8" fill="#00ff00"/>
<rect x="411" y="499" width="3" height="8" fill="#00ff00"/>
<rect x="419" y="500" width="3" height="7" fill="#00ff00"/>
<rect x="427" y="500" width="3" height="7" fill="#00ff00"/>
<rect x="435" y="500" width="3" height="7" fill="#00ff00"/>
<rect x="443" y="500" width="3" height="7" fill="#00ff00"/>
<rect x="451" y="500" width="3" height="7" fill="#00ff00"/>
<rect x="459" y="500" width="3" height="7" fill="#00ff00"/>
<rect x="467" y="500" width="3" height="7" fill="#00ff00"/>
<rect x="475" y="500" width="3" height="7" fill="#00ff00"/>
<rect x="483" y="500" width="3" height="7" fill="#00ff00"/>
<rect x="491" y="501" width="3" height="6" fill="#00ff00"/>
<rect x="499" y="501" width="3" height="6" fill="#00ff00"/>
<rect x="507" y="504" width="3" height="3" fill="#00ff00"/>
<rect x="515" y="504" width="3" height="3" fill="#00ff00"/>
<rect x="523" y="505" width="3" height="2" fill="#00ff00"/>
<rect x="531" y="502" width="3" height="5" fill="#00ff00"/>
<rect x="539" y="503" width="3" height="4" fill="#00ff00"/>
<rect x="547" y="503" width="3" height="4" fill="#00ff00"/>
<rect x="555" y="501" width="3" height="6" fill="#00ff00"/>
<rect x="563" y="499" width="3" height="8" fill="#00ff00"/>
<rect x="571" y="497" width="3" height="10" fill="#00ff00"/>
<rect x="579" y="496" width="3" height="11" fill="#00ff00"/>
<rect x="587" y="494" width="3" height="13" fill="#00ff00"/>
<rect x="595" y="494" width="3" height="13" fill="#00ff00"/>
<rect x="603" y="493" width="3" height="14" fill="#00ff00"/>
<rect x="611" y="491" width="3" height="16" fill="#00ff00"/>
<rect x="619" y="490" width="3" height="17" fill="#00ff00"/>
<rect x="627" y="489" width="3" height="18" fill="#00ff00"/>
<rect x="635" y="489" width="3" height="18" fill="#00ff00"/>
<rect x="643" y="489" width="3" height="18" fill="#00ff00"/>
<rect x="651" y="488" width="3" height="19" fill="#00ff00"/>
<rect x="659" y="487" width="3" height="20" fill="#00ff00"/>
<rect x="667" y="486" width="3" height="21" fill="#00ff00"/>
<rect x="675" y="486" width="3" height="21" fill="#00ff00"/>
<rect x="683" y="487" width="3" height="20" fill="#00ff00"/>
<rect x="691" y="488" width="3" height="19" fill="#00ff00"/>
<rect x="699" y="488" width="3" height="19" fill="#00ff00"/>
<rect x="707" y="488" width="3" height="19" fill="#00ff00"/>
<rect x="715" y="487" width="3" height="20" fill="#00ff00"/>
<rect x="723" y="487" width="3" height="20" fill="#00ff00"/>
<rect x="731" y="487" width="3" height="20" fill="#00ff00"/>
<rect x="739" y="487" width="3" height="20" fill="#00ff00"/>
<rect x="747" y="484" width="3" height="23" fill="#00ff00"/>
<rect x="755" y="483" width="3" height="24" fill="#00ff00"/>
<rect x="763" y="480" width="3" height="27" fill="#00ff00"/>
<rect x="771" y="477" width="3" height="30" fill="#00ff00"/>
<rect x="779" y="475" width="3" height="32" fill="#00ff00"/>
<rect x="787" y="474" width="3" height="33" fill="#00ff00"/>
<rect x="795" y="476" width="3" height="31" fill="#00ff00"/>
<rect x="803" y="477" width="3" height="30" fill="#00ff00"/>
<rect x="811" y="479" width="3" height="28" fill="#00ff00"/>
<rect x="819" y="483" width="3" height="24" fill="#00ff00"/>
<rect x="827" y="485" width="3" height="22" fill="#00ff00"/>
<rect x="835" y="487" width="3" height="20" fill="#00ff00"/>
<rect x="843" y="487" width="3" height="20" fill="#00ff00"/>
<rect x="851" y="486" width="3" height="21" fill="#00ff00"/>
<rect x="859" y="485" width="3" height="22" fill="#00ff00"/>
<rect x="867" y="485" width="3" height="22" fill="#00ff00"/>
<rect x="875" y="485" width="3" height="22" fill="#00ff00"/>
<rect x="883" y="483" width="3" height="24" fill="#00ff00"/>
<rect x="891" y="483" width="3" height="24" fill="#00ff00"/>
<rect x="899" y="482" width="3" height="25" fill="#00ff00"/>
<rect x="907" y="481" width="3" height="26" fill="#00ff00"/>
<rect x="915" y="480" width="3" height="27" fill="#00ff00"/>
<rect x="923" y="481" width="3" height="26" fill="#00ff00"/>
</g>
<rect x="5" y="526" width="3" height="1" fill="#000"/>
<rect x="11" y="526" width="3" height="1" fill="#000"/>
<rect x="17" y="526" width="3" height="1" fill="#000"/>
<rect x="23" y="526" width="3" height="1" fill="#000"/>
<rect x="29" y="526" width="3" height="1" fill="#000"/>
<rect x="35" y="526" width="3" height="1" fill="#000"/>
<rect x="41" y="526" width="3" height="1" fill="#000"/>
<rect x="47" y="526" width="3" height="1" fill="#000"/>
<rect x="53" y="526" width="3" height="1" fill="#000"/>
<rect x="59" y="526" width="3" height="1" fill="#000"/>
<rect x="65" y="526" width="3" height="1" fill="#000"/>
<rect x="71" y="526" width="3" height="1" fill="#000"/>
<rect x="77" y="526" width="3" height="1" fill="#000"/>
<rect x="83" y="526" width="3" height="1" fill="#000"/>
<rect x="89" y="526" width="3" height="1" fill="#000"/>
<rect x="95" y="526" width="3" height="1" fill="#000"/>
<rect x="101" y="526" width="3" height="1" fill="#000"/>
<rect x="107" y="526" width="3" height="1" fill="#000"/>
<rect x="113" y="526" width="3" height="1" fill="#000"/>
<rect x="119" y="526" width="3" height="1" fill="#000"/>
<rect x="125" y="526" width="3" height="1" fill="#000"/>
<rect x="131" y="526" width="3" height="1" fill="#000"/>
<rect x="137" y="526" width="3" height="1" fill="#000"/>
<rect x="143" y="526" width="3" height="1" fill="#000"/>
<rect x="149" y="526" width="3" height="1" fill="#000"/>
<rect x="155" y="526" width="3" height="1" fill="#000"/>
<rect x="161" y="526" width="3" height="1" fill="#000"/>
<rect x="167" y="526" width="3" height="1" fill="#000"/>
<rect x="173" y="526" width="3" height="1" fill="#000"/>
<rect x="179" y="526" width="3" height="1" fill="#000"/>
<rect x="185" y="526" width="3" height="1" fill="#000"/>
<rect x="191" y="526" width="3" height="1" fill="#000"/>
<rect x="197" y="526" width="3" height="1" fill="#000"/>
<rect x="203" y="526" width="3" height="1" fill="#000"/>
<rect x="209" y="526" width="3" height="1" fill="#000"/>
<rect x="215" y="526" width="3" height="1" fill="#000"/>
<rect x="221" y="526" width="3" height="1" fill="#000"/>
<rect x="227" y="526" width="3" height="1" fill="#000"/>
<rect x="233" y="526" width="3" height="1" fill="#000"/>
<rect x="239" y="526" width="3" height="1" fill="#000"/>
<rect x="245" y="526" width="3" height="1" fill="#000"/>
<rect x="251" y="526" width="3" height="1" fill="#000"/>
<rect x="257" y="526" width="3" height="1" fill="#000"/>
<rect x="263" y="526" width="3" height="1" fill="#000"/>
<rect x="269" y="526" width="3" height="1" fill="#000"/>
<rect x="275" y="526" width="3" height="1" fill="#000"/>
<rect x="281" y="526" width="3" height="1" fill="#000"/>
<rect x="287" y="526" width="3" height="1" fill="#000"/>
<rect x="293" y="526" width="3" height="1" fill="#000"/>
<rect x="299" y="526" width="3" height="1" fill="#000"/>
<rect x="305" y="526" width="3" height="1" fill="#000"/>
<rect x="311" y="526" width="3" height="1" fill="#000"/>
<rect x="317" y="526" width="3" height="1" fill="#000"/>
<rect x="323" y="526" width="3" height="1" fill="#000"/>
<rect x="329" y="526" width="3" height="1" fill="#000"/>
<rect x="335" y="526" width="3" height="1" fill="#000"/>
<rect x="341" y="526" width="3" height="1" fill="#000"/>
<rect x="347" y="526" width="3" height="1" fill="#000"/>
<rect x="353" y="526" width="3" height="1" fill="#000"/>
<rect x="359" y="526" width="3" height="1" fill="#000"/>
<rect x="365" y="526" width="3" height="1" fill="#000"/>
<rect x="371" y="526" width="3" height="1" fill="#000"/>
<rect x="377" y="526" width="3" height="1" fill="#000"/>
<rect x="383" y="526" width="3" height="1" fill="#000"/>
<rect x="389" y="526" width="3" height="1" fill="#000"/>
<rect x="395" y="526" width="3" height="1" fill="#000"/>
<rect x="401" y="526" width="3" height="1" fill="#000"/>
<rect x="407" y="526" width="3" height="1" fill="#000"/>
<rect x="413" y="526" width="3" height="1" fill="#000"/>
<rect x="419" y="526" width="3" height="1" fill="#000"/>
<rect x="425" y="526" width="3" height="1" fill="#000"/>
<rect x="431" y="526" width="3" height="1" fill="#000"/>
<rect x="437" y="526" width="3" height="1" fill="#000"/>
<rect x="443" y="526" width="3" height="1" fill="#000"/>
<rect x="449" y="526" width="3" height="1" fill="#000"/>
<rect x="455" y="526" width="3" height="1" fill="#000"/>
<rect x="461" y="526" width="3" height="1" fill="#000"/>
<rect x="467" y="526" width="3" height="1" fill="#000"/>
<rect x="473" y="526" width="3" height="1" fill="#000"/>
<rect x="479" y="526" width="3" height="1" fill="#000"/>
<rect x="485" y="526" width="3" height="1" fill="#000"/>
<rect x="491" y="526" width="3" height="1" fill="#000"/>
<rect x="497" y="526" width="3" height="1" fill="#000"/>
<rect x="503" y="526" width="3" height="1" fill="#000"/>
<rect x="509" y="526" width="3" height="1" fill="#000"/>
<rect x="515" y="526" width="3" height="1" fill="#000"/>
<rect x="521" y="526" width="3" height="1" fill="#000"/>
<rect x="527" y="526" width="3" height="1" fill="#000"/>
<rect x="533" y="526" width="3" height="1" fill="#000"/>
<rect x="539" y="526" width="3" height="1" fill="#000"/>
<rect x="545" y="526" width="3" height="1" fill="#000"/>
<rect x="551" y="526" width="3" height="1" fill="#000"/>
<rect x="557" y="526" width="3" height="1" fill="#000"/>
<rect x="563" y="526" width="3" height="1" fill="#000"/>
<rect x="569" y="526" width="3" height="1" fill="#000"/>
<rect x="575" y="526" width="3" height="1" fill="#000"/>
<rect x="581" y="526" width="3" height="1" fill="#000"/>
<rect x="587" y="526" width="3" height="1" fill="#000"/>
<rect x="593" y="526" width="3" height="1" fill="#000"/>
<rect x="599" y="526" width="3" height="1" fill="#000"/>
<rect x="605" y="526" width="3" height="1" fill="#000"/>
<rect x="611" y="526" width="3" height="1" fill="#000"/>
<rect x="617" y="526" width="3" height="1" fill="#000"/>
<rect x="623" y="526" width="3" height="1" fill="#000"/>
<rect x="629" y="526" width="3" height="1" fill="#000"/>
<rect x="635" y="526" width="3" height="1" fill="#000"/>
<rect x="641" y="526" width="3" height="1" fill="#000"/>
<rect x="647" y="526" width="3" height="1" fill="#000"/>
<rect x="653" y="526" width="3" height="1" fill="#000"/>
<rect x="659" y="526" width="3" height="1" fill="#000"/>
<rect x="665" y="526" width="3" height="1" fill="#000"/>
<rect x="671" y="526" width="3" height="1" fill="#000"/>
<rect x="677" y="526" width="3" height="1" fill="#000"/>
<rect x="683" y="526" width="3" height="1" fill="#000"/>
<rect x="689" y="526" width="3" height="1" fill="#000"/>
<rect x="695" y="526" width="3" height="1" fill="#000"/>
<rect x="701" y="526" width="3" height="1" fill="#000"/>
<rect x="707" y="526" width="3" height="1" fill="#000"/>
<rect x="713" y="526" width="3" height="1" fill="#000"/>
<rect x="719" y="526" width="3" height="1" fill="#000"/>
<rect x="725" y="526" width="3" height="1" fill="#000"/>
<rect x="731" y="526" width="3" height="1" fill="#000"/>
<rect x="737" y="526" width="3" height="1" fill="#000"/>
<rect x="743" y="526" width="3" height="1" fill="#000"/>
<rect x="749" y="526" width="3" height="1" fill="#000"/>
<rect x="755" y="526" width="3" height="1" fill="#000"/>
<rect x="761" y="526" width="3" height="1" fill="#000"/>
<rect x="767" y="526" width="3" height="1" fill="#000"/>
<rect x="773" y="526" width="3" height="1" fill="#000"/>
<rect x="779" y="526" width="3" height="1" fill="#000"/>
<rect x="785" y="526" width="3" height="1" fill="#000"/>
<rect x="791" y="526" width="3" height="1" fill="#000"/>
<rect x="797" y="526" width="3" height="1" fill="#000"/>
<rect x="803" y="526" width="3" height="1" fill="#000"/>
<rect x="809" y="526" width="3" height="1" fill="#000"/>
<rect x="815" y="526" width="3" height="1" fill="#000"/>
<rect x="821" y="526" width="3" height="1" fill="#000"/>
<rect x="827" y="526" width="3" height="1" fill="#000"/>
<rect x="833" y="526" width="3" height="1" fill="#000"/>
<rect x="839" y="526" width="3" height="1" fill="#000"/>
<rect x="845" y="526" width="3" height="1" fill="#000"/>
<rect x="851" y="526" width="3" height="1" fill="#000"/>
<rect x="857" y="526" width="3" height="1" fill="#000"/>
<rect x="863" y="526" width="3" height="1" fill="#000"/>
<rect x="869" y="526" width="3" height="1" fill="#000"/>
<rect x="875" y="526" width="3" height="1" fill="#000"/>
<rect x="881" y="526" width="3" height="1" fill="#000"/>
<rect x="887" y="526" width="3" height="1" fill="#000"/>
<rect x="893" y="526" width="3" height="1" fill="#000"/>
<rect x="899" y="526" width="3" height="1" fill="#000"/>
<rect x="905" y="526" width="3" height="1" fill="#000"/>
<rect x="911" y="526" width="3" height="1" fill="#000"/>
<rect x="917" y="526" width="3" height="1" fill="#000"/>
<rect x="923" y="526" width="3" height="1" fill="#000"/>
<rect x="929" y="526" width="3" height="1" fill="#000"/>
<rect x="935" y="526" width="3" height="1" fill="#000"/>
<rect x="941" y="526" width="3" height="1" fill="#000"/>
<rect x="947" y="526" width="3" height="1" fill="#000"/>
<rect x="953" y="526" width="3" height="1" fill="#000"/>
<rect x="959" y="526" width="3" height="1" fill="#000"/>
<rect x="965" y="526" width="3" height="1" fill="#000"/>
<rect x="971" y="526" width="3" height="1" fill="#000"/>
<rect x="977" y="526" width="3" height="1" fill="#000"/>
<rect x="983" y="526" width="3" height="1" fill="#000"/>
<rect x="989" y="526" width="3" height="1" fill="#000"/>
<rect x="995" y="526" width="3" height="1" fill="#000"/>
<rect x="1001" y="526" width="3" height="1" fill="#000"/>
<rect x="1007" y="526" width="3" height="1" fill="#000"/>
<rect x="1013" y="526" width="3" height="1" fill="#000"/>
<rect x="1019" y="526" width="3" height="1" fill="#000"/>
<rect x="1025" y="526" width="3" height="1" fill="#000"/>
<rect x="1031" y="526" width="3" height="1" fill="#000"/>
<rect x="1037" y="526" width="3" height="1" fill="#000"/>
<rect x="1043" y="526" width="3" height="1" fill="#000"/>
<rect x="1049" y="526" width="3" height="1" fill="#000"/>
<rect x="1055" y="526" width="3" height="1" fill="#000"/>
<rect x="1061" y="526" width="3" height="1" fill="#000"/>
<rect x="1067" y="526" width="3" height="1" fill="#000"/>
<rect x="1073" y="526" width="3" height="1" fill="#000"/>
<rect x="1079" y="526" width="3" height="1" fill="#000"/>
<rect x="1085" y="526" width="3" height="1" fill="#000"/>
<rect x="1091" y="526" width="3" height="1" fill="#000"/>
<rect x="1097" y="526" width="3" height="1" fill="#000"/>
<rect x="1103" y="526" width="3" height="1" fill="#000"/>
<rect x="1109" y="526" width="3" height="1" fill="#000"/>
<rect x="1115" y="526" width="3" height="1" fill="#000"/>
<rect x="1121" y="526" width="3" height="1" fill="#000"/>
<rect x="1127" y="526" width="3" height="1" fill="#000"/>
<rect x="1133" y="526" width="3" height="1" fill="#000"/>
<rect x="1139" y="526" width="3" height="1" fill="#000"/>
<rect x="1145" y="526" width="3" height="1" fill="#000"/>
<rect x="1151" y="526" width="3" height="1" fill="#000"/>
<rect x="1157" y="526" width="3" height="1" fill="#000"/>
<rect x="1163" y="526" width="3" height="1" fill="#000"/>
<rect x="5" y="545" width="3" height="1" fill="#000"/>
<rect x="11" y="545" width="3" height="1" fill="#000"/>
<rect x="17" y="545" width="3" height="1" fill="#000"/>
<rect x="23" y="545" width="3" height="1" fill="#000"/>
<rect x="29" y="545" width="3" height="1" fill="#000"/>
<rect x="35" y="545" width="3" height="1" fill="#000"/>
<rect x="41" y="545" width="3" height="1" fill="#000"/>
<rect x="47" y="545" width="3" height="1" fill="#000"/>
<rect x="53" y="545" width="3" height="1" fill="#000"/>
<rect x="59" y="545" width="3" height="1" fill="#000"/>
<rect x="65" y="545" width="3" height="1" fill="#000"/>
<rect x="71" y="545" width="3" height="1" fill="#000"/>
<rect x="77" y="545" width="3" height="1" fill="#000"/>
<rect x="83" y="545" width="3" height="1" fill="#000"/>
<rect x="89" y="545" width="3" height="1" fill="#000"/>
<rect x="95" y="545" width="3" height="1" fill="#000"/>
<rect x="101" y="545" width="3" height="1" fill="#000"/>
<rect x="107" y="545" width="3" height="1" fill="#000"/>
<rect x="113" y="545" width="3" height="1" fill="#000"/>
<rect x="119" y="545" width="3" height="1" fill="#000"/>
<rect x="125" y="545" width="3" height="1" fill="#000"/>
<rect x="131" y="545" width="3" height="1" fill="#000"/>
<rect x="137" y="545" width="3" height="1" fill="#000"/>
<rect x="143" y="545" width="3" height="1" fill="#000"/>
<rect x="149" y="545" width="3" height="1" fill="#000"/>
<rect x="155" y="545" width="3" height="1" fill="#000"/>
<rect x="161" y="545" width="3" height="1" fill="#000"/>
<rect x="167" y="545" width="3" height="1" fill="#000"/>
<rect x="173" y="545" width="3" height="1" fill="#000"/>
<rect x="179" y="545" width="3" height="1" fill="#000"/>
<rect x="185" y="545" width="3" height="1" fill="#000"/>
<rect x="191" y="545" width="3" height="1" fill="#000"/>
<rect x="197" y="545" width="3" height="1" fill="#000"/>
<rect x="203" y="545" width="3" height="1" fill="#000"/>
<rect x="209" y="545" width="3" height="1" fill="#000"/>
<rect x="215" y="545" width="3" height="1" fill="#000"/>
<rect x="221" y="545" width="3" height="1" fill="#000"/>
<rect x="227" y="545" width="3" height="1" fill="#000"/>
<rect x="233" y="545" width="3" height="1" fill="#000"/>
<rect x="239" y="545" width="3" height="1" fill="#000"/>
<rect x="245" y="545" width="3" height="1" fill="#000"/>
<rect x="251" y="545" width="3" height="1" fill="#000"/>
<rect x="257" y="545" width="3" height="1" fill="#000"/>
<rect x="263" y="545" width="3" height="1" fill="#000"/>
<rect x="269" y="545" width="3" height="1" fill="#000"/>
<rect x="275" y="545" width="3" height="1" fill="#000"/>
<rect x="281" y="545" width="3" height="1" fill="#000"/>
<rect x="287" y="545" width="3" height="1" fill="#000"/>
<rect x="293" y="545" width="3" height="1" fill="#000"/>
<rect x="299" y="545" width="3" height="1" fill="#000"/>
<rect x="305" y="545" width="3" height="1" fill="#000"/>
<rect x="311" y="545" width="3" height="1" fill="#000"/>
<rect x="317" y="545" width="3" height="1" fill="#000"/>
<rect x="323" y="545" width="3" height="1" fill="#000"/>
<rect x="329" y="545" width="3" height="1" fill="#000"/>
<rect x="335" y="545" width="3" height="1" fill="#000"/>
<rect x="341" y="545" width="3" height="1" fill="#000"/>
<rect x="347" y="545" width="3" height="1" fill="#000"/>
<rect x="353" y="545" width="3" height="1" fill="#000"/>
<rect x="359" y="545" width="3" height="1" fill="#000"/>
<rect x="365" y="545" width="3" height="1" fill="#000"/>
<rect x="371" y="545" width="3" height="1" fill="#000"/>
<rect x="377" y="545" width="3" height="1" fill="#000"/>
<rect x="383" y="545" width="3" height="1" fill="#000"/>
<rect x="389" y="545" width="3" height="1" fill="#000"/>
<rect x="395" y="545" width="3" height="1" fill="#000"/>
<rect x="401" y="545" width="3" height="1" fill="#000"/>
<rect x="407" y="545" width="3" height="1" fill="#000"/>
<rect x="413" y="545" width="3" height="1" fill="#000"/>
<rect x="419" y="545" width="3" height="1" fill="#000"/>
<rect x="425" y="545" width="3" height="1" fill="#000"/>
<rect x="431" y="545" width="3" height="1" fill="#000"/>
<rect x="437" y="545" width="3" height="1" fill="#000"/>
<rect x="443" y="545" width="3" height="1" fill="#000"/>
<rect x="449" y="545" width="3" height="1" fill="#000"/>
<rect x="455" y="545" width="3" height="1" fill="#000"/>
<rect x="461" y="545" width="3" height="1" fill="#000"/>
<rect x="467" y="545" width="3" height="1" fill="#000"/>
<rect x="473" y="545" width="3" height="1" fill="#000"/>
<rect x="479" y="545" width="3" height="1" fill="#000"/>
<rect x="485" y="545" width="3" height="1" fill="#000"/>
<rect x="491" y="545" width="3" height="1" fill="#000"/>
<rect x="497" y="545" width="3" height="1" fill="#000"/>
<rect x="503" y="545" width="3" height="1" fill="#000"/>
<rect x="509" y="545" width="3" height="1" fill="#000"/>
<rect x="515" y="545" width="3" height="1" fill="#000"/>
<rect x="521" y="545" width="3" height="1" fill="#000"/>
<rect x="527" y="545" width="3" height="1" fill="#000"/>
<rect x="533" y="545" width="3" height="1" fill="#000"/>
<rect x="539" y="545" width="3" height="1" fill="#000"/>
<rect x="545" y="545" width="3" height="1" fill="#000"/>
<rect x="551" y="545" width="3" height="1" fill="#000"/>
<rect x="557" y="545" width="3" height="1" fill="#000"/>
<rect x="563" y="545" width="3" height="1" fill="#000"/>
<rect x="569" y="545" width="3" height="1" fill="#000"/>
<rect x="575" y="545" width="3" height="1" fill="#000"/>
<rect x="581" y="545" width="3" height="1" fill="#000"/>
<rect x="587" y="545" width="3" height="1" fill="#000"/>
<rect x="593" y="545" width="3" height="1" fill="#000"/>
<rect x="599" y="545" width="3" height="1" fill="#000"/>
<rect x="605" y="545" width="3" height="1" fill="#000"/>
<rect x="611" y="545" width="3" height="1" fill="#000"/>
<rect x="617" y="545" width="3" height="1" fill="#000"/>
<rect x="623" y="545" width="3" height="1" fill="#000"/>
<rect x="629" y="545" width="3" height="1" fill="#000"/>
<rect x="635" y="545" width="3" height="1" fill="#000"/>
<rect x="641" y="545" width="3" height="1" fill="#000"/>
<rect x="647" y="545" width="3" height="1" fill="#000"/>
<rect x="653" y="545" width="3" height="1" fill="#000"/>
<rect x="659" y="545" width="3" height="1" fill="#000"/>
<rect x="665" y="545" width="3" height="1" fill="#000"/>
<rect x="671" y="545" width="3" height="1" fill="#000"/>
<rect x="677" y="545" width="3" height="1" fill="#000"/>
<rect x="683" y="545" width="3" height="1" fill="#000"/>
<rect x="689" y="545" width="3" height="1" fill="#000"/>
<rect x="695" y="545" width="3" height="1" fill="#000"/>
<rect x="701" y="545" width="3" height="1" fill="#000"/>
<rect x="707" y="545" width="3" height="1" fill="#000"/>
<rect x="713" y="545" width="3" height="1" fill="#000"/>
<rect x="719" y="545" width="3" height="1" fill="#000"/>
<rect x="725" y="545" width="3" height="1" fill="#000"/>
<rect x="731" y="545" width="3" height="1" fill="#000"/>
<rect x="737" y="545" width="3" height="1" fill="#000"/>
<rect x="743" y="545" width="3" height="1" fill="#000"/>
<rect x="749" y="545" width="3" height="1" fill="#000"/>
<rect x="755" y="545" width="3" height="1" fill="#000"/>
<rect x="761" y="545" width="3" height="1" fill="#000"/>
<rect x="767" y="545" width="3" height="1" fill="#000"/>
<rect x="773" y="545" width="3" height="1" fill="#000"/>
<rect x="779" y="545" width="3" height="1" fill="#000"/>
<rect x="785" y="545" width="3" height="1" fill="#000"/>
<rect x="791" y="545" width="3" height="1" fill="#000"/>
<rect x="797" y="545" width="3" height="1" fill="#000"/>
<rect x="803" y="545" width="3" height="1" fill="#000"/>
<rect x="809" y="545" width="3" height="1" fill="#000"/>
<rect x="815" y="545" width="3" height="1" fill="#000"/>
<rect x="821" y="545" width="3" height="1" fill="#000"/>
<rect x="827" y="545" width="3" height="1" fill="#000"/>
<rect x="833" y="545" width="3" height="1" fill="#000"/>
<rect x="839" y="545" width="3" height="1" fill="#000"/>
<rect x="845" y="545" width="3" height="1" fill="#000"/>
<rect x="851" y="545" width="3" height="1" fill="#000"/>
<rect x="857" y="545" width="3" height="1" fill="#000"/>
<rect x="863" y="545" width="3" height="1" fill="#000"/>
<rect x="869" y="545" width="3" height="1" fill="#000"/>
<rect x="875" y="545" width="3" height="1" fill="#000"/>
<rect x="881" y="545" width="3" height="1" fill="#000"/>
<rect x="887" y="545" width="3" height="1" fill="#000"/>
<rect x="893" y="545" width="3" height="1" fill="#000"/>
<rect x="899" y="545" width="3" height="1" fill="#000"/>
<rect x="905" y="545" width="3" height="1" fill="#000"/>
<rect x="911" y="545" width="3" height="1" fill="#000"/>
<rect x="917" y="545" width="3" height="1" fill="#000"/>
<rect x="923" y="545" width="3" height="1" fill="#000"/>
<rect x="929" y="545" width="3" height="1" fill="#000"/>
<rect x="935" y="545" width="3" height="1" fill="#000"/>
<rect x="941" y="545" width="3" height="1" fill="#000"/>
<rect x="947" y="545" width="3" height="1" fill="#000"/>
<rect x="953" y="545" width="3" height="1" fill="#000"/>
<rect x="959" y="545" width="3" height="1" fill="#000"/>
<rect x="965" y="545" width="3" height="1" fill="#000"/>
<rect x="971" y="545" width="3" height="1" fill="#000"/>
<rect x="977" y="545" width="3" height="1" fill="#000"/>
<rect x="983" y="545" width="3" height="1" fill="#000"/>
<rect x="989" y="545" width="3" height="1" fill="#000"/>
<rect x="995" y="545" width="3" height="1" fill="#000"/>
<rect x="1001" y="545" width="3" height="1" fill="#000"/>
<rect x="1007" y="545" width="3" height="1" fill="#000"/>
<rect x="1013" y="545" width="3" height="1" fill="#000"/>
<rect x="1019" y="545" width="3" height="1" fill="#000"/>
<rect x="1025" y="545" width="3" height="1" fill="#000"/>
<rect x="1031" y="545" width="3" height="1" fill="#000"/>
<rect x="1037" y="545" width="3" height="1" fill="#000"/>
<rect x="1043" y="545" width="3" height="1" fill="#000"/>
<rect x="1049" y="545" width="3" height="1" fill="#000"/>
<rect x="1055" y="545" width="3" height="1" fill="#000"/>
<rect x="1061" y="545" width="3" height="1" fill="#000"/>
<rect x="1067" y="545" width="3" height="1" fill="#000"/>
<rect x="1073" y="545" width="3" height="1" fill="#000"/>
<rect x="1079" y="545" width="3" height="1" fill="#000"/>
<rect x="1085" y="545" width="3" height="1" fill="#000"/>
<rect x="1091" y="545" width="3" height="1" fill="#000"/>
<rect x="1097" y="545" width="3" height="1" fill="#000"/>
<rect x="1103" y="545" width="3" height="1" fill="#000"/>
<rect x="1109" y="545" width="3" height="1" fill="#000"/>
<rect x="1115" y="545" width="3" height="1" fill="#000"/>
<rect x="1121" y="545" width="3" height="1" fill="#000"/>
<rect x="1127" y="545" width="3" height="1" fill="#000"/>
<rect x="1133" y="545" width="3" height="1" fill="#000"/>
<rect x="1139" y="545" width="3" height="1" fill="#000"/>
<rect x="1145" y="545" width="3" height="1" fill="#000"/>
<rect x="1151" y="545" width="3" height="1" fill="#000"/>
<rect x="1157" y="545" width="3" height="1" fill="#000"/>
<rect x="1163" y="545" width="3" height="1" fill="#000"/>
<rect x="3" y="24" width="1164" height="1" fill="#000"/>
<rect x="3" y="24" width="1" height="438" fill="#000"/>
<rect x="3" y="461" width="1164" height="1" fill="#000"/>
<rect x="3" y="463" width="1164" height="1" fill="#000"/>
<rect x="3" y="463" width="1" height="46" fill="#000"/>
<rect x="3" y="508" width="1164" height="1" fill="#000"/>
<rect x="3" y="510" width="1164" height="1" fill="#000"/>
<rect x="3" y="510" width="1" height="51" fill="#000"/>
<rect x="3" y="560" width="1164" height="1" fill="#000"/>
<rect x="1166" y="24" width="1" height="537" fill="#000"/>
<rect x="1167" y="29" width="2" height="1" fill="#000"/>
<rect x="1167" y="62" width="2" height="1" fill="#000"/>
<rect x="1167" y="95" width="2" height="1" fill="#000"/>
<rect x="1167" y="128" width="2" height="1" fill="#000"/>
<rect x="1167" y="161" width="2" height="1" fill="#000"/>
<rect x="1167" y="194" width="2" height="1" fill="#000"/>
<rect x="1167" y="227" width="2" height="1" fill="#000"/>
<rect x="1167" y="260" width="2" height="1" fill="#000"/>
<rect x="1167" y="293" width="2" height="1" fill="#000"/>
<rect x="1167" y="326" width="2" height="1" fill="#000"/>
<rect x="1167" y="359" width="2" height="1" fill="#000"/>
<rect x="1167" y="392" width="2" height="1" fill="#000"/>
<rect x="1167" y="425" width="2" height="1" fill="#000"/>
<rect x="1167" y="458" width="2" height="1" fill="#000"/>
<rect x="1167" y="465" width="2" height="1" fill="#000"/>
<rect x="1167" y="507" width="2" height="1" fill="#000"/>
<rect x="1167" y="512" width="2" height="1" fill="#000"/>
<rect x="1167" y="526" width="2" height="1" fill="#000"/>
<rect x="1167" y="545" width="2" height="1" fill="#000"/>
<rect x="1167" y="559" width="2" height="1" fill="#000"/>
<rect x="4" y="561" width="1" height="3" fill="#000"/>
<rect x="68" y="561" width="1" height="3" fill="#000"/>
<rect x="132" y="561" width="1" height="3" fill="#000"/>
<rect x="196" y="561" width="1" height="3" fill="#000"/>
<rect x="260" y="561" width="1" height="3" fill="#000"/>
<rect x="324" y="561" width="1" height="3" fill="#000"/>
<rect x="388" y="561" width="1" height="3" fill="#000"/>
<rect x="452" y="561" width="1" height="3" fill="#000"/>
<rect x="516" y="561" width="1" height="3" fill="#000"/>
<rect x="580" y="561" width="1" height="3" fill="#000"/>
<rect x="644" y="561" width="1" height="3" fill="#000"/>
<rect x="708" y="561" width="1" height="3" fill="#000"/>
<rect x="772" y="561" width="1" height="3" fill="#000"/>
<rect x="836" y="561" width="1" height="3" fill="#000"/>
<rect x="900" y="561" width="1" height="3" fill="#000"/>
<rect x="1168" y="50" width="41" height="11" fill="#ff0000"/>
<rect x="1168" y="120" width="41" height="11" fill="#ff0000"/>
<rect x="1168" y="180" width="41" height="11" fill="#00ff00"/>
<rect x="1168" y="242" width="41" height="11" fill="#0000ff"/>
<rect x="1168" y="302" width="41" height="11" fill="#0000ff"/>
<rect x="1168" y="72" width="41" height="11" fill="#000"/>
<rect x="537" y="582" width="112" height="19" fill="#fff"/>
<rect x="537" y="583" width="1" height="18" fill="#000"/>
<rect x="537" y="600" width="112" height="1" fill="#000"/>
<rect x="648" y="583" width="1" height="18" fill="#000"/>
<rect x="649" y="584" width="1" height="18" fill="#888"/>
<rect x="538" y="601" width="111" height="1" fill="#888"/>
<rect x="106" y="586" width="1" height="14" fill="#707070"/>
<rect x="213" y="586" width="1" height="14" fill="#707070"/>
<rect x="321" y="586" width="1" height="14" fill="#707070"/>
<rect x="429" y="586" width="1" height="14" fill="#707070"/>
<rect x="725" y="586" width="1" height="14" fill="#707070"/>
<rect x="817" y="586" width="1" height="14" fill="#707070"/>
<rect x="909" y="586" width="1" height="14" fill="#707070"/>
<rect x="1001" y="586" width="1" height="14" fill="#707070"/>
<rect x="1097" y="586" width="1" height="14" fill="#707070"/>
</g>
<polygon points="927,25 938,25 932.5,30.5" fill="#000"/>
<polygon points="6.8,30.8 14,30.8 10.4,34.8" fill="#000"/>
<polygon points="1185.3,589 1185.3,595 1181.8,592" fill="#a0a0a0"/>
<polygon points="1201,588.5 1201,595.5 1204.5,592" fill="#000"/>
<polyline clip-path="url(#cr)" points="4,523 12,523 18,528 25,528 26,527 31,527 37,531.5 50,534.8 63,534.8 70,532 78,531.2 89,536.2 100,536.2 103,534.8 113,536.2 139,536.2 149,534.2 159,533.7 172,529.9 176,530.4 187,536.2 200,535.8 208,535.8 210,536.2 220,536.2 222,535 235,535 237,536.2 260,536.2 262,535 284,535 286,536.2 296,536.2 300,534 308,534 313,536.2 327,536.2 332,533.2 338,531.7 351,531.7 357,529.9 372,529.9 377,532 382,532 386,529.9 395,529.9 399,530.9 404,530.9 406,531.7 423,531.7 427,534 444,534 450,530.9 460,530.9 469,533.7 500,533.7 508,537.8 511,537.8 515,536.7 524,536.7 532,529.9 536,529.9 541,532 551,532 557,530.4 566,527.9 571,526.6 574,526.6 577,527.5 590,527.5 594,528.4 600,528.7 605,527.5 615,525.9 623,525.9 627,527 643,527 647,525.4 653,525.4 658,523.7 663,523.7 666,524.9 676,524.9 683,527.9 689,531.2 694,531.2 699,527.9 709,527.9 716,525.7 722,525.7 727,527 736,527 746,523.7 759,522.6 766,520.9 774,519.6 788,519.6 796,528.7 800,528.7 802,527.5 806,527.5 813,531.2 819,534.8 824,534.8 828,532.8 836,532.8 843,531.2 853,529.5 863,527.9 879,527.9 883,526.7 899,526.7 904,524.9 912,524.9 917,526.7 921,527.9 925,527.9" fill="none" stroke="#1e90ff" stroke-width="2" stroke-linejoin="round" shape-rendering="crispEdges"/>
<polygon points="936.3,97.5 969.6,50.6 966.2,47.8 982,40 977.8,57.4 973.8,54.4" fill="#fb3b3b"/>
<text x="0" y="11.7" font-size="9.3" fill="#444" stroke="#444" stroke-width="0.2" textLength="5" lengthAdjust="spacingAndGlyphs">5</text>
<text x="16" y="11.7" font-size="9.3" fill="#444" stroke="#444" stroke-width="0.2" textLength="17.5" lengthAdjust="spacingAndGlyphs">M30</text>
<text x="47" y="11.7" font-size="9.3" fill="#444" stroke="#444" stroke-width="0.2" textLength="11" lengthAdjust="spacingAndGlyphs">H1</text>
<text x="74" y="11.7" font-size="9.3" fill="#444" stroke="#444" stroke-width="0.2" textLength="12.5" lengthAdjust="spacingAndGlyphs">H4</text>
<text x="102.8" y="11.7" font-size="9.3" fill="#444" stroke="#444" stroke-width="0.2" textLength="11.4" lengthAdjust="spacingAndGlyphs">D1</text>
<text x="130.6" y="11.7" font-size="9.3" fill="#444" stroke="#444" stroke-width="0.2" textLength="13.4" lengthAdjust="spacingAndGlyphs">W1</text>
<text x="156.9" y="11.7" font-size="9.3" fill="#444" stroke="#444" stroke-width="0.2" textLength="14.1" lengthAdjust="spacingAndGlyphs">MN</text>
<text x="19.6" y="36" font-size="9.8" fill="#000" stroke="#000" stroke-width="0.2" textLength="67.2" lengthAdjust="spacingAndGlyphs">USDCNH-,Daily</text>
<text x="94" y="36" font-size="9.8" fill="#000" stroke="#000" stroke-width="0.2" textLength="140.5" lengthAdjust="spacingAndGlyphs">7.25531 7.28277 7.21824 7.23180</text>
<text x="10.3" y="112.7" font-size="9.8" fill="#000" stroke="#000" stroke-width="0.2" textLength="78.5" lengthAdjust="spacingAndGlyphs">#7972506 sell 1.00</text>
<text x="8.5" y="476.3" font-size="9.8" fill="#000" stroke="#000" stroke-width="0.2" textLength="147.5" lengthAdjust="spacingAndGlyphs">MACD(12,26,9) 0.063246 0.058555</text>
<polyline clip-path="url(#cd)" points="4,472 28,472 30,469.2 50,469.2 66,474 83,479 99,484.8 116,489.8 132,492.3 149,498 166,499.7 228,499.7 229,500.6 244,500.6 245,501.7 253,501.7 254,502.7 268,502.7 269,503.9 300,503.9 301,504.7 347,504.7 357,503.9 372,503.9 373,502.7 388,502.7 389,501.7 404,501.7 405,500.9 413,500.9 414,499.7 484,499.7 485,500.6 508,500.6 509,501.7 532,501.7 533,502.7 563,502.7 564,501.7 580,501.7 581,500.9 588,500.9 589,499.9 596,499.9 600,498.9 608,496.8 620,495.6 630,493.9 638,492.3 651,491.5 661,490.1 670,489.1 678,488.1 716,488.1 718,486.8 756,486.8 759,486.2 766,485.2 774,484.2 782,483.2 788,481.2 797,480.2 805,479 813,477.9 820,477.9 822,479 836,479 838,479.9 845,479.9 847,481.2 853,481.2 856,482.3 861,484 876,484 878,485.2 907,485.2 909,484 916,484 918,482.8 925,482.8" fill="none" stroke="#ff0000" stroke-width="2" stroke-linejoin="round" shape-rendering="crispEdges"/>
<text x="8.5" y="522.8" font-size="9.8" fill="#000" stroke="#000" stroke-width="0.2" textLength="67.5" lengthAdjust="spacingAndGlyphs">RSI(14) 65.5433</text>
<text x="1172" y="32.7" font-size="9.8" fill="#000" stroke="#000" stroke-width="0.2" textLength="33" lengthAdjust="spacingAndGlyphs">7.31000</text>
<text x="1172" y="65.7" font-size="9.8" fill="#000" stroke="#000" stroke-width="0.2" textLength="33" lengthAdjust="spacingAndGlyphs">7.25560</text>
<text x="1172" y="98.7" font-size="9.8" fill="#000" stroke="#000" stroke-width="0.2" textLength="33" lengthAdjust="spacingAndGlyphs">7.20120</text>
<text x="1172" y="131.7" font-size="9.8" fill="#000" stroke="#000" stroke-width="0.2" textLength="33" lengthAdjust="spacingAndGlyphs">7.14680</text>
<text x="1172" y="164.7" font-size="9.8" fill="#000" stroke="#000" stroke-width="0.2" textLength="33" lengthAdjust="spacingAndGlyphs">7.09240</text>
<text x="1172" y="197.7" font-size="9.8" fill="#000" stroke="#000" stroke-width="0.2" textLength="33" lengthAdjust="spacingAndGlyphs">7.03800</text>
<text x="1172" y="230.7" font-size="9.8" fill="#000" stroke="#000" stroke-width="0.2" textLength="33" lengthAdjust="spacingAndGlyphs">6.98360</text>
<text x="1172" y="263.7" font-size="9.8" fill="#000" stroke="#000" stroke-width="0.2" textLength="33" lengthAdjust="spacingAndGlyphs">6.92920</text>
<text x="1172" y="296.7" font-size="9.8" fill="#000" stroke="#000" stroke-width="0.2" textLength="33" lengthAdjust="spacingAndGlyphs">6.87480</text>
<text x="1172" y="329.7" font-size="9.8" fill="#000" stroke="#000" stroke-width="0.2" textLength="33" lengthAdjust="spacingAndGlyphs">6.82040</text>
<text x="1172" y="362.7" font-size="9.8" fill="#000" stroke="#000" stroke-width="0.2" textLength="33" lengthAdjust="spacingAndGlyphs">6.76600</text>
<text x="1172" y="395.7" font-size="9.8" fill="#000" stroke="#000" stroke-width="0.2" textLength="33" lengthAdjust="spacingAndGlyphs">6.71320</text>
<text x="1172" y="428.7" font-size="9.8" fill="#000" stroke="#000" stroke-width="0.2" textLength="33" lengthAdjust="spacingAndGlyphs">6.65880</text>
<text x="1172" y="461.7" font-size="9.8" fill="#000" stroke="#000" stroke-width="0.2" textLength="33" lengthAdjust="spacingAndGlyphs">6.60440</text>
<g shape-rendering="crispEdges">
<rect x="1168" y="50" width="41" height="11" fill="#ff0000"/>
<rect x="1168" y="120" width="41" height="11" fill="#ff0000"/>
<rect x="1168" y="180" width="41" height="11" fill="#00ff00"/>
<rect x="1168" y="242" width="41" height="11" fill="#0000ff"/>
<rect x="1168" y="302" width="41" height="11" fill="#0000ff"/>
<rect x="1168" y="72" width="41" height="11" fill="#000"/>
</g>
<text x="1172" y="59.2" font-size="9.8" fill="#fff" stroke="#fff" stroke-width="0.2" textLength="33" lengthAdjust="spacingAndGlyphs">7.26516</text>
<text x="1172" y="129.2" font-size="9.8" fill="#fff" stroke="#fff" stroke-width="0.2" textLength="33" lengthAdjust="spacingAndGlyphs">7.15012</text>
<text x="1172" y="189.2" font-size="9.8" fill="#fff" stroke="#fff" stroke-width="0.2" textLength="33" lengthAdjust="spacingAndGlyphs">7.05152</text>
<text x="1172" y="251.2" font-size="9.8" fill="#fff" stroke="#fff" stroke-width="0.2" textLength="33" lengthAdjust="spacingAndGlyphs">6.94963</text>
<text x="1172" y="311.2" font-size="9.8" fill="#fff" stroke="#fff" stroke-width="0.2" textLength="33" lengthAdjust="spacingAndGlyphs">6.85103</text>
<text x="1172" y="81.2" font-size="9.8" fill="#fff" stroke="#fff" stroke-width="0.2" textLength="33" lengthAdjust="spacingAndGlyphs">7.23180</text>
<text x="1170.4" y="474" font-size="9.8" fill="#000" stroke="#000" stroke-width="0.2" textLength="37" lengthAdjust="spacingAndGlyphs">0.103149</text>
<text x="1170.4" y="504.7" font-size="9.8" fill="#000" stroke="#000" stroke-width="0.2" textLength="41" lengthAdjust="spacingAndGlyphs">-0.001805</text>
<clipPath id="cg"><rect x="1168" y="500" width="42" height="7.4"/></clipPath>
<text x="1170.4" y="510.6" font-size="9.8" fill="#000" stroke="#000" stroke-width="0.2" textLength="17.3" lengthAdjust="spacingAndGlyphs" clip-path="url(#cg)">0.00</text>
<text x="1170.4" y="521" font-size="9.8" fill="#000" stroke="#000" stroke-width="0.2" textLength="14.5" lengthAdjust="spacingAndGlyphs">100</text>
<text x="1170.4" y="529.8" font-size="9.8" fill="#000" stroke="#000" stroke-width="0.2" textLength="9.5" lengthAdjust="spacingAndGlyphs">70</text>
<text x="1170.4" y="548.7" font-size="9.8" fill="#000" stroke="#000" stroke-width="0.2" textLength="9.5" lengthAdjust="spacingAndGlyphs">30</text>
<text x="1170.4" y="556.7" font-size="9.8" fill="#000" stroke="#000" stroke-width="0.2" textLength="4.6" lengthAdjust="spacingAndGlyphs">0</text>
<text x="3.5" y="573" font-size="9.6" fill="#000" stroke="#000" stroke-width="0.2" textLength="54" lengthAdjust="spacingAndGlyphs">13 May 2022</text>
<text x="67.5" y="573" font-size="9.6" fill="#000" stroke="#000" stroke-width="0.2" textLength="53.5" lengthAdjust="spacingAndGlyphs">25 May 2022</text>
<text x="131.5" y="573" font-size="9.6" fill="#000" stroke="#000" stroke-width="0.2" textLength="44" lengthAdjust="spacingAndGlyphs">6 Jun 2022</text>
<text x="195.5" y="573" font-size="9.6" fill="#000" stroke="#000" stroke-width="0.2" textLength="49.2" lengthAdjust="spacingAndGlyphs">16 Jun 2022</text>
<text x="259.5" y="573" font-size="9.6" fill="#000" stroke="#000" stroke-width="0.2" textLength="49.5" lengthAdjust="spacingAndGlyphs">28 Jun 2022</text>
<text x="323.5" y="573" font-size="9.6" fill="#000" stroke="#000" stroke-width="0.2" textLength="41.5" lengthAdjust="spacingAndGlyphs">8 Jul 2022</text>
<text x="387.5" y="573" font-size="9.6" fill="#000" stroke="#000" stroke-width="0.2" textLength="46.1" lengthAdjust="spacingAndGlyphs">20 Jul 2022</text>
<text x="451.5" y="573" font-size="9.6" fill="#000" stroke="#000" stroke-width="0.2" textLength="46.6" lengthAdjust="spacingAndGlyphs">1 Aug 2022</text>
<text x="515.5" y="573" font-size="9.6" fill="#000" stroke="#000" stroke-width="0.2" textLength="52" lengthAdjust="spacingAndGlyphs">11 Aug 2022</text>
<text x="579.5" y="573" font-size="9.6" fill="#000" stroke="#000" stroke-width="0.2" textLength="51.8" lengthAdjust="spacingAndGlyphs">23 Aug 2022</text>
<text x="643.5" y="573" font-size="9.6" fill="#000" stroke="#000" stroke-width="0.2" textLength="45.9" lengthAdjust="spacingAndGlyphs">2 Sep 2022</text>
<text x="707.5" y="573" font-size="9.6" fill="#000" stroke="#000" stroke-width="0.2" textLength="50.8" lengthAdjust="spacingAndGlyphs">14 Sep 2022</text>
<text x="771.5" y="573" font-size="9.6" fill="#000" stroke="#000" stroke-width="0.2" textLength="50.8" lengthAdjust="spacingAndGlyphs">26 Sep 2022</text>
<text x="835.5" y="573" font-size="9.6" fill="#000" stroke="#000" stroke-width="0.2" textLength="44.6" lengthAdjust="spacingAndGlyphs">6 Oct 2022</text>
<text x="899.5" y="573" font-size="9.6" fill="#000" stroke="#000" stroke-width="0.2" textLength="50.5" lengthAdjust="spacingAndGlyphs">18 Oct 2022</text>
<text x="16.4" y="598" font-size="12.6" fill="#6a6a6a" stroke="#6a6a6a" stroke-width="0" textLength="77.3" lengthAdjust="spacingAndGlyphs">USDX,Weekly</text>
<text x="116.5" y="598" font-size="12.6" fill="#6a6a6a" stroke="#6a6a6a" stroke-width="0" textLength="84.3" lengthAdjust="spacingAndGlyphs">EURUSD-,Daily</text>
<text x="223.7" y="598" font-size="12.6" fill="#6a6a6a" stroke="#6a6a6a" stroke-width="0" textLength="86.0" lengthAdjust="spacingAndGlyphs">AUDUSD-,Daily</text>
<text x="333.5" y="598" font-size="12.6" fill="#6a6a6a" stroke="#6a6a6a" stroke-width="0" textLength="83.0" lengthAdjust="spacingAndGlyphs">USDCHF-,Daily</text>
<text x="440.6" y="598" font-size="12.6" fill="#6a6a6a" stroke="#6a6a6a" stroke-width="0" textLength="85.5" lengthAdjust="spacingAndGlyphs">USDCAD-,Daily</text>
<text x="549.5" y="598" font-size="12.6" fill="#000" stroke="#000" stroke-width="0" textLength="87.0" lengthAdjust="spacingAndGlyphs">USDCNH-,Daily</text>
<text x="659.5" y="598" font-size="12.6" fill="#6a6a6a" stroke="#6a6a6a" stroke-width="0" textLength="54.1" lengthAdjust="spacingAndGlyphs">HK50-,H1</text>
<text x="735.1" y="598" font-size="12.6" fill="#6a6a6a" stroke="#6a6a6a" stroke-width="0" textLength="70.2" lengthAdjust="spacingAndGlyphs">EURCHF-,H1</text>
<text x="829.4" y="598" font-size="12.6" fill="#6a6a6a" stroke="#6a6a6a" stroke-width="0" textLength="66.9" lengthAdjust="spacingAndGlyphs">USOil-,Daily</text>
<text x="920.5" y="598" font-size="12.6" fill="#6a6a6a" stroke="#6a6a6a" stroke-width="0" textLength="67.9" lengthAdjust="spacingAndGlyphs">UKOil-,Daily</text>
<text x="1012" y="598" font-size="12.6" fill="#6a6a6a" stroke="#6a6a6a" stroke-width="0" textLength="73" lengthAdjust="spacingAndGlyphs">XAUUSD-,H1</text>
<text x="1108.4" y="598" font-size="12.6" fill="#6a6a6a" stroke="#6a6a6a" stroke-width="0" textLength="67.4" lengthAdjust="spacingAndGlyphs">UKOil-,Daily</text>
</svg>
</body></html>
